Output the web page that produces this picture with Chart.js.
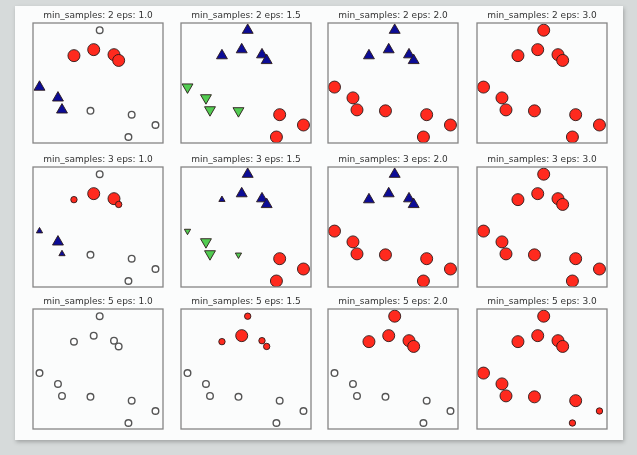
<!DOCTYPE html>
<html>
<head>
<meta charset="utf-8">
<script src="https://cdn.jsdelivr.net/npm/chart.js@4/dist/chart.umd.min.js"></script>
<style>
  html, body { margin: 0; padding: 0; background: #d6dada; width: 637px; height: 455px; overflow: hidden; }
  #fig { position: absolute; left: 15px; top: 6px; width: 608px; height: 434px; background: #fbfcfc;
         box-shadow: 1px 2px 4px rgba(0,0,0,0.25); }
  canvas { position: absolute; }
</style>
</head>
<body>
<div id="fig"></div>
<script>
// Point coordinates (12 samples, in axis units 0..10)
const X = [5.13, 3.15, 4.67, 6.23, 6.59, 0.50, 1.92, 2.23, 4.42, 7.59, 9.42, 7.34];
const Y = [9.40, 7.28, 7.78, 7.36, 6.88, 4.66, 3.76, 2.76, 2.68, 2.36, 1.50, 0.50];

const MIN_SAMPLES = [2, 3, 5];
const EPS = ["1.0", "1.5", "2.0", "3.0"];

// cluster labels per panel (-1 = noise), row by row
const LABELS = [
  [-1, 0, 0, 0, 0, 1, 1, 1, -1, -1, -1, -1],
  [1, 1, 1, 1, 1, 2, 2, 2, 2, 0, 0, 0],
  [1, 1, 1, 1, 1, 0, 0, 0, 0, 0, 0, 0],
  [0, 0, 0, 0, 0, 0, 0, 0, 0, 0, 0, 0],
  [-1, 0, 0, 0, 0, 1, 1, 1, -1, -1, -1, -1],
  [1, 1, 1, 1, 1, 2, 2, 2, 2, 0, 0, 0],
  [1, 1, 1, 1, 1, 0, 0, 0, 0, 0, 0, 0],
  [0, 0, 0, 0, 0, 0, 0, 0, 0, 0, 0, 0],
  [-1, -1, -1, -1, -1, -1, -1, -1, -1, -1, -1, -1],
  [0, 0, 0, 0, 0, -1, -1, -1, -1, -1, -1, -1],
  [0, 0, 0, 0, 0, -1, -1, -1, -1, -1, -1, -1],
  [0, 0, 0, 0, 0, 0, 0, 0, 0, 0, 0, 0]
];
// core sample flags per panel (1 = core, 0 = border)
const CORE = [
  [0, 1, 1, 1, 1, 1, 1, 1, 0, 0, 0, 0],
  [1, 1, 1, 1, 1, 1, 1, 1, 1, 1, 1, 1],
  [1, 1, 1, 1, 1, 1, 1, 1, 1, 1, 1, 1],
  [1, 1, 1, 1, 1, 1, 1, 1, 1, 1, 1, 1],
  [0, 0, 1, 1, 0, 0, 1, 0, 0, 0, 0, 0],
  [1, 0, 1, 1, 1, 0, 1, 1, 0, 1, 1, 1],
  [1, 1, 1, 1, 1, 1, 1, 1, 1, 1, 1, 1],
  [1, 1, 1, 1, 1, 1, 1, 1, 1, 1, 1, 1],
  [0, 0, 0, 0, 0, 0, 0, 0, 0, 0, 0, 0],
  [0, 0, 1, 0, 0, 0, 0, 0, 0, 0, 0, 0],
  [1, 1, 1, 1, 1, 0, 0, 0, 0, 0, 0, 0],
  [1, 1, 1, 1, 1, 1, 1, 1, 1, 1, 0, 0]
];

const CLUSTER_COLORS = ["#ff2a1e", "#0c0c96", "#52cc52"];
const CLUSTER_STYLES = ["circle", "triangle", "triangle"];
const CLUSTER_ROT = [0, 0, 180];

// layout of the axes boxes (page pixels)
const COL_LEFT = [33, 181, 328, 477];
const ROW_TOP = [23, 167, 309];
const AX_W = 130, AX_H = 120;
const PAD = 8, TITLE_H = 17;

const boxPlugin = {
  id: 'box',
  afterDatasetsDraw(chart) {
    const a = chart.chartArea, c = chart.ctx;
    c.save();
    c.strokeStyle = '#858585';
    c.lineWidth = 1.3;
    c.strokeRect(a.left, a.top, a.right - a.left, a.bottom - a.top);
    c.restore();
  }
};

for (let r = 0; r < 3; r++) {
  for (let k = 0; k < 4; k++) {
    const idx = r * 4 + k;
    const lab = LABELS[idx], core = CORE[idx];
    const cv = document.createElement('canvas');
    const w = AX_W + 2 * PAD, h = AX_H + TITLE_H + PAD;
    cv.width = w; cv.height = h;
    cv.style.width = w + 'px'; cv.style.height = h + 'px';
    cv.style.left = (COL_LEFT[k] - PAD) + 'px';
    cv.style.top = (ROW_TOP[r] - TITLE_H) + 'px';
    document.body.appendChild(cv);

    const datasets = [];
    // noise
    const noise = [];
    for (let i = 0; i < 12; i++) if (lab[i] === -1) noise.push({ x: X[i], y: Y[i] });
    datasets.push({
      data: noise, pointStyle: 'circle', pointRadius: 3.3, borderWidth: 1.4,
      borderColor: '#555', backgroundColor: '#ffffff'
    });
    for (let c = 0; c < 3; c++) {
      const pts = [], rad = [];
      for (let i = 0; i < 12; i++) {
        if (lab[i] === c) {
          pts.push({ x: X[i], y: Y[i] });
          const big = core[i] === 1;
          rad.push(c === 0 ? (big ? 6 : 3.2) : (big ? 6.3 : 3.6));
        }
      }
      if (!pts.length) continue;
      datasets.push({
        data: pts, pointStyle: CLUSTER_STYLES[c], rotation: CLUSTER_ROT[c],
        pointRadius: rad, borderWidth: 0.9, borderColor: '#2a1a1a',
        backgroundColor: CLUSTER_COLORS[c]
      });
    }

    new Chart(cv, {
      type: 'scatter',
      data: { datasets },
      options: {
        responsive: false, animation: false, devicePixelRatio: 1,
        layout: { padding: { left: PAD, right: PAD, top: 0, bottom: PAD } },
        plugins: {
          legend: { display: false }, tooltip: { enabled: false },
          title: {
            display: true,
            text: 'min_samples: ' + MIN_SAMPLES[r] + ' eps: ' + EPS[k],
            font: { family: 'DejaVu Sans', size: 9, weight: 'normal', lineHeight: 1.2 },
            color: '#333', padding: { top: 4, bottom: 2.2 }
          }
        },
        scales: {
          x: { type: 'linear', min: 0, max: 10, display: false },
          y: { type: 'linear', min: 0, max: 10, display: false }
        }
      },
      plugins: [boxPlugin]
    });
  }
}
</script>
</body>
</html>
